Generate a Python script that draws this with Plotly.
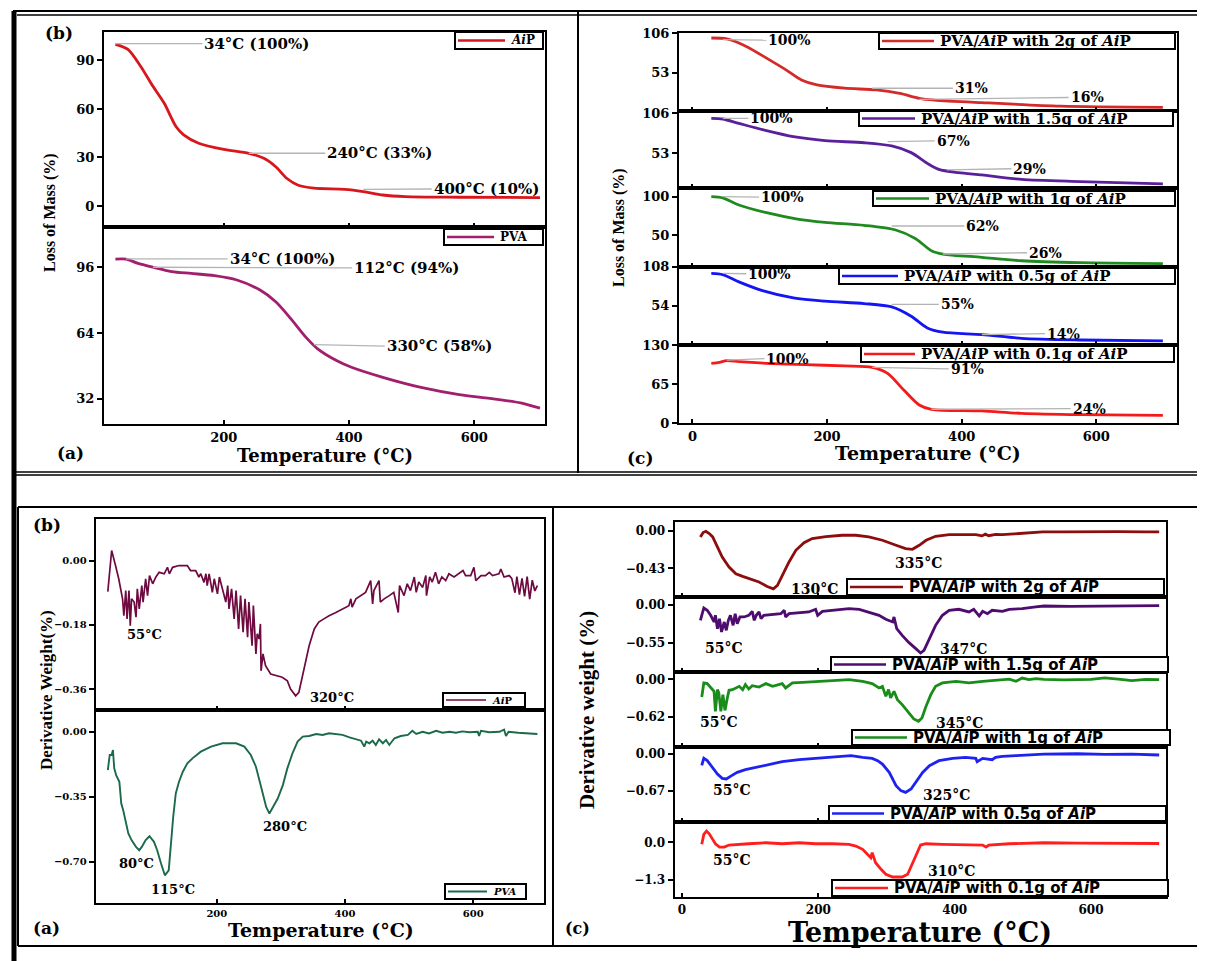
import plotly.graph_objects as go

OFF = 8                      # page body margin of the html page
FW, FH = 1205 - OFF, 961 - OFF

# ---------------- DATA ----------------
# Top-left TGA (temperature, mass %)
AIP_TGA = [(27, 100), (47, 96.9), (68, 86), (87, 74), (105, 63.5), (124, 49), (136, 44), (160, 38.8),
           (200, 35), (240, 32.6), (264, 29.5), (283, 24.3), (301, 17), (319, 12.8), (344, 11),
           (393, 10.3), (423, 8.9), (454, 6.8), (490, 5.8), (576, 5.4), (705, 5.2)]
PVA_TGA = [(27, 100), (44, 100), (62, 98), (87, 96), (117, 93.9), (148, 93), (185, 91.9), (221, 89.8),
           (258, 84.9), (283, 79.2), (307, 71), (331, 62), (350, 56.3), (380, 50.6), (404, 47.3),
           (454, 42.4), (515, 37.5), (576, 34), (637, 31.7), (674, 30), (705, 27.4)]

# Top-right TGA of blends
TGA_2G = [(28, 99.3), (51, 98), (80, 88), (110, 72.3), (139, 56.6), (162, 43), (185, 36.4), (226, 32),
          (273, 29.6), (308, 25), (337, 18.4), (360, 16), (430, 12.6), (547, 8), (699, 6.3)]
TGA_15G = [(28, 99.4), (45, 98.5), (69, 92.7), (110, 83), (150, 75), (197, 69.8), (255, 67), (296, 62.7),
           (325, 53.9), (349, 39.7), (366, 31.8), (395, 27.4), (430, 24.3), (489, 18.5), (576, 15.5), (699, 12.4)]
TGA_1G = [(28, 100), (45, 98.3), (69, 89.2), (110, 79.3), (156, 71.1), (197, 66.8), (255, 62.9), (302, 56.9),
          (331, 46), (355, 30.2), (372, 25.9), (430, 21.6), (489, 17.2), (576, 14.7), (699, 13.4)]
TGA_05G = [(28, 98.8), (45, 97), (69, 87), (104, 75), (150, 65), (197, 60.5), (255, 57.2), (296, 52.6),
           (325, 39.7), (349, 23.5), (372, 17.6), (430, 14.3), (489, 9.2), (576, 6.9), (699, 5.6)]
TGA_01G = [(28, 99.6), (40, 101.2), (51, 104), (69, 102.3), (110, 99.6), (168, 97.4), (226, 95.2), (267, 93),
           (290, 83), (314, 55.3), (337, 30.4), (355, 23.2), (430, 20.5), (489, 16.6), (576, 14.4), (699, 13.3)]

# Bottom-left DTG
AIP_DTG = [(30, -0.087), (36, 0.028), (42, -0.014), (47, -0.051), (53, -0.107), (55, -0.154), (58, -0.084),
           (60, -0.163), (63, -0.084), (65, -0.182), (67, -0.107), (71, -0.116), (74, -0.158), (76, -0.079),
           (79, -0.135), (83, -0.070), (85, -0.116), (89, -0.051), (92, -0.098), (95, -0.042), (100, -0.065),
           (105, -0.046), (110, -0.033), (118, -0.037), (123, -0.019), (126, -0.037), (131, -0.019),
           (141, -0.014), (154, -0.014), (159, -0.028), (167, -0.028), (172, -0.046), (175, -0.037),
           (180, -0.061), (183, -0.037), (185, -0.070), (188, -0.037), (193, -0.089), (196, -0.051),
           (201, -0.093), (204, -0.046), (209, -0.079), (214, -0.116), (217, -0.070), (219, -0.135),
           (223, -0.079), (227, -0.163), (230, -0.084), (234, -0.191), (237, -0.098), (241, -0.200),
           (244, -0.107), (248, -0.214), (250, -0.116), (255, -0.238), (257, -0.126), (261, -0.261),
           (263, -0.205), (266, -0.219), (268, -0.177), (269, -0.308), (272, -0.261), (276, -0.294),
           (284, -0.317), (295, -0.322), (302, -0.326), (310, -0.336), (315, -0.359), (323, -0.378),
           (328, -0.368), (336, -0.303), (344, -0.238), (352, -0.191), (359, -0.172), (367, -0.163),
           (375, -0.154), (385, -0.146), (398, -0.135), (406, -0.126), (409, -0.107), (411, -0.130),
           (417, -0.107), (424, -0.098), (432, -0.089), (440, -0.056), (443, -0.121), (445, -0.084),
           (453, -0.056), (455, -0.116), (461, -0.107), (469, -0.098), (476, -0.089), (483, -0.145),
           (485, -0.070), (492, -0.098), (497, -0.065), (502, -0.084), (508, -0.046), (511, -0.089),
           (515, -0.060), (521, -0.075), (526, -0.042), (527, -0.098), (532, -0.046), (536, -0.060),
           (541, -0.033), (546, -0.065), (551, -0.046), (557, -0.056), (562, -0.037), (570, -0.046),
           (578, -0.037), (584, -0.028), (588, -0.042), (596, -0.042), (601, -0.019), (604, -0.056),
           (612, -0.042), (619, -0.042), (625, -0.033), (630, -0.042), (640, -0.037), (643, -0.024),
           (648, -0.046), (656, -0.042), (660, -0.050), (665, -0.090), (668, -0.045), (672, -0.095),
           (676, -0.050), (680, -0.100), (684, -0.045), (688, -0.108), (692, -0.055), (696, -0.085),
           (700, -0.070)]
PVA_DTG = [(30, -0.206), (33, -0.125), (36, -0.125), (38, -0.098), (40, -0.197), (43, -0.233), (48, -0.269),
           (51, -0.386), (54, -0.422), (58, -0.494), (62, -0.547), (67, -0.583), (74, -0.619), (79, -0.637),
           (83, -0.619), (89, -0.583), (95, -0.562), (102, -0.592), (107, -0.637), (113, -0.709),
           (119, -0.772), (125, -0.745), (128, -0.601), (132, -0.457), (136, -0.332), (141, -0.269),
           (147, -0.215), (154, -0.170), (162, -0.143), (175, -0.107), (191, -0.080), (209, -0.062),
           (230, -0.062), (243, -0.080), (253, -0.125), (261, -0.188), (269, -0.296), (277, -0.404),
           (282, -0.440), (288, -0.404), (295, -0.359), (303, -0.287), (310, -0.197), (318, -0.116),
           (326, -0.053), (334, -0.026), (344, -0.023), (355, -0.012), (365, -0.017), (375, -0.008),
           (386, -0.014), (396, -0.017), (407, -0.030), (417, -0.041), (425, -0.048), (430, -0.080),
           (433, -0.053), (438, -0.062), (443, -0.048), (448, -0.071), (453, -0.041), (459, -0.062),
           (464, -0.044), (469, -0.071), (477, -0.035), (487, -0.023), (498, -0.017), (505, 0.005),
           (511, -0.012), (521, 0.0), (531, -0.009), (542, 0.005), (552, -0.005), (563, 0.0),
           (573, -0.005), (583, 0.002), (594, -0.003), (607, 0.0), (609, -0.023), (612, 0.005),
           (625, -0.003), (641, 0.0), (648, 0.012), (651, -0.023), (655, 0.0), (670, -0.005),
           (685, -0.010), (700, -0.012)]

# Bottom-right DTG of blends
DTG_2G = [(27, -0.072), (31, -0.022), (35, -0.007), (40, -0.034), (45, -0.072), (52, -0.186), (59, -0.301),
          (69, -0.415), (79, -0.492), (89, -0.522), (103, -0.557), (113, -0.587), (125, -0.637),
          (134, -0.664), (140, -0.625), (147, -0.511), (157, -0.358), (167, -0.225), (179, -0.137),
          (191, -0.091), (211, -0.068), (235, -0.053), (255, -0.053), (274, -0.072), (294, -0.110),
          (314, -0.167), (328, -0.206), (338, -0.213), (348, -0.167), (358, -0.110), (372, -0.065),
          (392, -0.046), (411, -0.042), (431, -0.046), (440, -0.060), (445, -0.040), (450, -0.058),
          (460, -0.042), (470, -0.046), (490, -0.034), (509, -0.027), (529, -0.015), (560, -0.015),
          (600, -0.012), (640, -0.012), (680, -0.015), (700, -0.015)]
DTG_15G = [(27, -0.224), (32, -0.044), (37, -0.078), (42, -0.151), (47, -0.248), (49, -0.151), (52, -0.346),
           (55, -0.200), (58, -0.394), (62, -0.248), (65, -0.370), (68, -0.224), (71, -0.151), (75, -0.297),
           (78, -0.127), (81, -0.273), (85, -0.175), (91, -0.175), (98, -0.151), (103, -0.093),
           (106, -0.224), (109, -0.151), (113, -0.102), (116, -0.200), (120, -0.151), (133, -0.141),
           (145, -0.127), (150, -0.078), (152, -0.175), (157, -0.127), (172, -0.112), (186, -0.102),
           (196, -0.063), (199, -0.151), (206, -0.093), (226, -0.078), (245, -0.054), (260, -0.063),
           (274, -0.102), (289, -0.151), (299, -0.209), (309, -0.248), (311, -0.175), (315, -0.346),
           (323, -0.443), (333, -0.550), (343, -0.637), (350, -0.701), (355, -0.662), (363, -0.492),
           (372, -0.297), (382, -0.151), (392, -0.078), (406, -0.063), (421, -0.102), (428, -0.063),
           (436, -0.161), (441, -0.093), (448, -0.127), (455, -0.078), (470, -0.093), (480, -0.063),
           (499, -0.054), (519, -0.029), (531, -0.015), (570, -0.020), (620, -0.015), (660, -0.012),
           (700, -0.010)]
DTG_1G = [(29, -0.294), (32, -0.060), (37, -0.071), (42, -0.143), (47, -0.198), (49, -0.531), (52, -0.171),
          (54, -0.226), (57, -0.531), (60, -0.254), (63, -0.515), (67, -0.282), (69, -0.182), (74, -0.171),
          (79, -0.143), (84, -0.116), (89, -0.171), (93, -0.088), (98, -0.160), (103, -0.105),
          (113, -0.127), (123, -0.071), (133, -0.116), (147, -0.071), (152, -0.143), (162, -0.060),
          (177, -0.049), (196, -0.033), (221, -0.022), (245, -0.005), (265, -0.033), (279, -0.071),
          (289, -0.143), (294, -0.116), (299, -0.282), (303, -0.171), (306, -0.309), (311, -0.198),
          (316, -0.337), (323, -0.420), (333, -0.558), (340, -0.657), (347, -0.696), (352, -0.641),
          (358, -0.448), (365, -0.254), (372, -0.116), (382, -0.060), (402, -0.033), (421, -0.060),
          (441, -0.033), (460, -0.017), (480, 0.005), (490, -0.033), (499, 0.022), (509, -0.005),
          (519, 0.011), (531, 0.0), (560, -0.010), (600, 0.0), (620, 0.025), (640, 0.005),
          (660, -0.020), (680, 0.0), (700, -0.005)]
DTG_05G = [(29, -0.207), (32, -0.076), (37, -0.119), (45, -0.240), (52, -0.365), (59, -0.444), (65, -0.456),
           (71, -0.408), (81, -0.335), (93, -0.286), (108, -0.243), (128, -0.182), (147, -0.140),
           (172, -0.103), (196, -0.079), (226, -0.061), (248, -0.030), (265, -0.061), (279, -0.079),
           (287, -0.122), (294, -0.182), (304, -0.335), (314, -0.578), (321, -0.669), (328, -0.700),
           (336, -0.639), (343, -0.517), (353, -0.335), (363, -0.213), (377, -0.122), (397, -0.079),
           (416, -0.061), (431, -0.079), (433, -0.140), (441, -0.079), (455, -0.103), (460, -0.061),
           (470, -0.043), (490, -0.030), (509, -0.012), (531, 0.0), (580, 0.005), (620, -0.005),
           (660, 0.0), (700, -0.018)]
DTG_01G = [(29, -0.069), (32, 0.276), (36, 0.390), (40, 0.297), (45, 0.103), (49, -0.048), (55, -0.162),
           (62, -0.162), (69, -0.093), (79, -0.069), (98, -0.048), (123, -0.014), (147, -0.048),
           (172, -0.014), (196, -0.048), (221, -0.048), (245, -0.069), (255, -0.128), (265, -0.241),
           (272, -0.414), (277, -0.531), (279, -0.359), (284, -0.703), (292, -0.931), (299, -1.103),
           (309, -1.197), (323, -1.197), (331, -1.103), (338, -0.759), (345, -0.359), (350, -0.093),
           (358, -0.048), (382, -0.069), (411, -0.069), (441, -0.093), (446, -0.162), (450, -0.093),
           (480, -0.048), (509, -0.014), (531, -0.014), (580, -0.030), (640, -0.030), (700, -0.040)]

# Axis tick values
TL_XTICKS = [200, 400, 600]
TR_XTICKS = [0, 200, 400, 600]

# Annotations: (curve x, curve y, text x, text y, text)
AIP_TGA_LABELS = [(27, 100.4, 166, 100.4, "34°C (100%)"), (240, 32.6, 362, 32.6, "240°C (33%)"),
                  (423, 10.3, 532, 10.5, "400°C (10%)")]
PVA_TGA_LABELS = [(44, 100.1, 206, 100.1, "34°C (100%)"), (87, 96, 405, 95.7, "112°C (94%)"),
                  (344, 58.3, 457, 57.6, "330°C (58%)")]
TGA_2G_LABELS = [(45, 97, 110, 96.5, "100%"), (267, 31.9, 387, 31.9, "31%"), (337, 17, 559, 19.5, "16%")]
TGA_15G_LABELS = [(45, 99.4, 83, 99.4, "100%"), (290, 68.5, 360, 69.5, "67%"), (378, 30.9, 474, 32.5, "29%")]
TGA_1G_LABELS = [(45, 100, 99, 99.5, "100%"), (296, 62.1, 404, 62.1, "62%"), (372, 25.9, 497, 27.5, "26%")]
TGA_05G_LABELS = [(45, 98.8, 80, 98.3, "100%"), (296, 55.9, 366, 55.9, "55%"), (430, 14.3, 524, 15.8, "14%")]
TGA_01G_LABELS = [(51, 105, 107, 107.5, "100%"), (267, 93, 381, 90.5, "91%"), (355, 23.3, 562, 24.3, "24%")]

AIP_DTG_LABELS = [(87, -0.207, "55°C"), (380, -0.383, "320°C")]
PVA_DTG_LABELS = [(74, -0.706, "80°C"), (132, -0.849, "115°C"), (307, -0.512, "280°C")]
DTG_2G_LABELS = [(195, -0.67, "130°C"), (347, -0.365, "335°C")]
DTG_15G_LABELS = [(61, -0.623, "55°C"), (413, -0.642, "347°C")]
DTG_1G_LABELS = [(55, -0.714, "55°C"), (407, -0.731, "345°C")]
DTG_05G_LABELS = [(73, -0.658, "55°C"), (388, -0.749, "325°C")]
DTG_01G_LABELS = [(73, -0.61, "55°C"), (396, -0.978, "310°C")]

BLEND = "PVA/<i>Ai</i>P with {} of <i>Ai</i>P"

SERIF = "DejaVu Serif"
TIMES = "Liberation Serif"
SANS = "DejaVu Sans"


def px(x):
    return (x - OFF) / FW


def py(y):
    return 1 - (y - OFF) / FH


# legend boxes in page pixels: left, top, right, bottom, sample end, font family, size
subplots = [
    # top-left
    dict(data=AIP_TGA, name="<i>Ai</i>P", color="#D8161C", lw=2.8, shape="spline",
         xd=(104, 545), yd=(32, 227), xr=(8.8, 713), yr=(-13, 107.6), yt=[0, 30, 60, 90], fmt="d",
         xt=TL_XTICKS, xlab=False, tf=13, lg=(455, 32, 543, 49, 505, SERIF, 12),
         tlabels=AIP_TGA_LABELS, tfs=15),
    dict(data=PVA_TGA, name="PVA", color="#A11F6D", lw=2.8, shape="spline",
         xd=(104, 545), yd=(227, 424), xr=(8.8, 713), yr=(19.7, 115.6), yt=[32, 64, 96], fmt="d",
         xt=TL_XTICKS, xlab=True, tf=13, lg=(444, 229, 543, 245, 494, SERIF, 12),
         tlabels=PVA_TGA_LABELS, tfs=15),
    # top-right
    dict(data=TGA_2G, name=BLEND.format("2g"), color="#D42A2A", lw=2.8, shape="spline",
         xd=(679, 1177), yd=(33, 110.7), xr=(-20, 720), yr=(1.8, 106), yt=[53, 106], fmt="d",
         xt=TR_XTICKS, xlab=False, tf=13, lg=(879, 33, 1175, 49, 934, SERIF, 15),
         tlabels=TGA_2G_LABELS, tfs=14),
    dict(data=TGA_15G, name=BLEND.format("1.5g"), color="#5A1F9A", lw=2.8, shape="spline",
         xd=(679, 1177), yd=(110.7, 188.3), xr=(-20, 720), yr=(6.6, 109.5), yt=[53, 106], fmt="d",
         xt=TR_XTICKS, xlab=False, tf=13, lg=(859, 111, 1173, 126, 915, SERIF, 15),
         tlabels=TGA_15G_LABELS, tfs=14),
    dict(data=TGA_1G, name=BLEND.format("1g"), color="#1F8A1F", lw=2.8, shape="spline",
         xd=(679, 1177), yd=(188.3, 266.7), xr=(-20, 720), yr=(9.5, 110.8), yt=[50, 100], fmt="d",
         xt=TR_XTICKS, xlab=False, tf=13, lg=(873, 191, 1175, 206, 929, SERIF, 15),
         tlabels=TGA_1G_LABELS, tfs=14),
    dict(data=TGA_05G, name=BLEND.format("0.5g"), color="#1414F5", lw=2.8, shape="spline",
         xd=(679, 1177), yd=(266.7, 345), xr=(-20, 720), yr=(0, 108), yt=[54, 108], fmt="d",
         xt=TR_XTICKS, xlab=False, tf=13, lg=(839, 268, 1175, 284, 898, SERIF, 15),
         tlabels=TGA_05G_LABELS, tfs=14),
    dict(data=TGA_01G, name=BLEND.format("0.1g"), color="#F51A1A", lw=2.8, shape="spline",
         xd=(679, 1177), yd=(345, 423.3), xr=(-20, 720), yr=(0, 130), yt=[0, 65, 130], fmt="d",
         xt=TR_XTICKS, xlab=True, tf=13, lg=(861, 346, 1174, 362, 915, SERIF, 15),
         tlabels=TGA_01G_LABELS, tfs=14),
    # bottom-left
    dict(data=AIP_DTG, name="<i>Ai</i>P", color="#6E0A40", lw=1.7, shape="linear",
         xd=(95.7, 544), yd=(519, 710), xr=(11.1, 710.3), yr=(-0.4175, 0.116), yt=[-0.36, -0.18, 0.0],
         fmt=".2f", xt=TL_XTICKS, xlab=False, tf=10, lg=(443, 693, 525, 707, 486, SERIF, 10),
         plabels=AIP_DTG_LABELS, pfs=13),
    dict(data=PVA_DTG, name="<i>PVA</i>", color="#1B6A4A", lw=1.9, shape="linear",
         xd=(95.7, 544), yd=(710, 903), xr=(11.1, 710.3), yr=(-0.921, 0.117), yt=[-0.70, -0.35, 0.0],
         fmt=".2f", xt=TL_XTICKS, xlab=True, tf=10, lg=(445, 884, 526, 899, 487, SERIF, 10),
         plabels=PVA_DTG_LABELS, pfs=13),
    # bottom-right
    dict(data=DTG_2G, name=BLEND.format("2g"), color="#8C0D0D", lw=2.8, shape="linear",
         xd=(674.5, 1166), yd=(522.3, 597.3), xr=(-11, 710), yr=(-0.761, 0.095), yt=[-0.43, 0.0], fmt=".2f",
         xt=TR_XTICKS, xlab=False, tf=12, lg=(847, 579, 1164, 595, 903, SANS, 15),
         plabels=DTG_2G_LABELS, pfs=14),
    dict(data=DTG_15G, name=BLEND.format("1.5g"), color="#4E0C6E", lw=2.8, shape="linear",
         xd=(674.5, 1166), yd=(597.3, 672), xr=(-11, 710), yr=(-0.978, 0.112), yt=[-0.55, 0.0], fmt=".2f",
         xt=TR_XTICKS, xlab=False, tf=12, lg=(831, 657, 1168, 672, 886, SANS, 15),
         plabels=DTG_15G_LABELS, pfs=14),
    dict(data=DTG_1G, name=BLEND.format("1g"), color="#1A8C1A", lw=2.8, shape="linear",
         xd=(674.5, 1166), yd=(672, 746.7), xr=(-11, 710), yr=(-1.118, 0.122), yt=[-0.62, 0.0], fmt=".2f",
         xt=TR_XTICKS, xlab=False, tf=12, lg=(852, 730, 1170, 745, 907, SANS, 15),
         plabels=DTG_1G_LABELS, pfs=14),
    dict(data=DTG_05G, name=BLEND.format("0.5g"), color="#1E22F0", lw=2.8, shape="linear",
         xd=(674.5, 1166), yd=(746.7, 821.7), xr=(-11, 710), yr=(-1.236, 0.134), yt=[-0.67, 0.0], fmt=".2f",
         xt=TR_XTICKS, xlab=False, tf=12, lg=(829, 806, 1166, 821, 884, SANS, 15),
         plabels=DTG_05G_LABELS, pfs=14),
    dict(data=DTG_01G, name=BLEND.format("0.1g"), color="#FF1E1E", lw=2.8, shape="linear",
         xd=(674.5, 1166), yd=(821.7, 897.3), xr=(-11, 710), yr=(-1.898, 0.713), yt=[-1.3, 0.0], fmt=".1f",
         xt=TR_XTICKS, xlab=True, tf=12, lg=(832, 880, 1168, 896, 888, SANS, 15),
         plabels=DTG_01G_LABELS, pfs=14),
]

fig = go.Figure()
layout = dict(width=FW, height=FH, margin=dict(l=0, r=0, t=0, b=0), template="none",
              paper_bgcolor="white", plot_bgcolor="white", showlegend=False)
annotations = []
shapes = []


def seg(x0, y0, x1, y1, w, color="black"):
    shapes.append(dict(type="line", xref="paper", yref="paper", x0=px(x0), y0=py(y0), x1=px(x1), y1=py(y1),
                       line=dict(color=color, width=w), layer="above"))


for i, s in enumerate(subplots, start=1):
    sfx = "" if i == 1 else str(i)
    xa, ya = "x" + sfx, "y" + sfx
    xs = [p[0] for p in s["data"]]
    ys = [p[1] for p in s["data"]]
    fig.add_trace(go.Scatter(x=xs, y=ys, mode="lines", name=s["name"],
                             line=dict(color=s["color"], width=s["lw"], shape=s["shape"], smoothing=0.8),
                             xaxis=xa, yaxis=ya, showlegend=False, hoverinfo="skip"))
    common = dict(showline=True, linecolor="black", linewidth=2, mirror=True, showgrid=False,
                  zeroline=False, tickcolor="black", tickwidth=2, automargin=False,
                  tickfont=dict(family=SERIF, size=s["tf"], color="black", weight="bold"))
    layout["xaxis" + sfx] = dict(common, domain=[px(s["xd"][0]), px(s["xd"][1])], range=list(s["xr"]),
                                 anchor=ya, tickvals=s["xt"], ticks="inside", ticklen=4,
                                 showticklabels=s["xlab"])
    layout["yaxis" + sfx] = dict(common, domain=[py(s["yd"][1]), py(s["yd"][0])], range=list(s["yr"]),
                                 anchor=xa, tickvals=s["yt"], ticks="outside", ticklen=5,
                                 tickformat=s["fmt"])
    # legend box drawn by hand
    l, t, r, b, se, fam, fs = s["lg"]
    shapes.append(dict(type="rect", xref="paper", yref="paper", x0=px(l), y0=py(b), x1=px(r), y1=py(t),
                       fillcolor="white", line=dict(color="black", width=2), layer="above"))
    seg(l + 3, (t + b) / 2, se, (t + b) / 2, min(s["lw"], 2.6), s["color"])
    annotations.append(dict(xref="paper", yref="paper", x=px(se + 4), y=py((t + b) / 2),
                            text="<b>" + s["name"] + "</b>", showarrow=False, xanchor="left",
                            yanchor="middle", font=dict(family=fam, size=fs, color="black")))
    for (cx, cy, tx, ty, txt) in s.get("tlabels", []):
        shapes.append(dict(type="line", xref=xa, yref=ya, x0=cx, y0=cy, x1=tx, y1=ty,
                           line=dict(color="#B4B4B4", width=1.3)))
        annotations.append(dict(xref=xa, yref=ya, x=tx, y=ty, text="<b>" + txt + "</b>", showarrow=False,
                                xanchor="left", yanchor="middle",
                                font=dict(family=SERIF, size=s["tfs"], color="black")))
    for (tx, ty, txt) in s.get("plabels", []):
        annotations.append(dict(xref=xa, yref=ya, x=tx, y=ty, text="<b>" + txt + "</b>", showarrow=False,
                                xanchor="center", yanchor="middle",
                                font=dict(family=SERIF, size=s["pfs"], color="black")))

# panel letters and axis titles (page pixels)
texts = [("(b)", 59, 33, 17, SERIF, 0), ("(a)", 70, 453, 17, SERIF, 0), ("(c)", 640, 458, 17, SERIF, 0),
         ("(b)", 47, 525, 17, SERIF, 0), ("(a)", 46, 928, 17, SERIF, 0), ("(c)", 577, 928, 16, SERIF, 0),
         ("Temperature (°C)", 325, 455, 18, SERIF, 0), ("Temperature (°C)", 928, 453, 19, SERIF, 0),
         ("Temperature (°C)", 321, 930, 19, SERIF, 0), ("Temperature (°C)", 920, 932, 27, SERIF, 0),
         ("Loss of Mass (%)", 50, 213, 16, TIMES, -90), ("Loss of Mass (%)", 619, 228, 16, TIMES, -90),
         ("Derivative Weight(%)", 46, 690, 17, TIMES, -90), ("Derivative weight (%)", 587, 710, 21, TIMES, -90)]
for (txt, x, y, size, fam, ang) in texts:
    annotations.append(dict(xref="paper", yref="paper", x=px(x), y=py(y), text="<b>" + txt + "</b>",
                            showarrow=False, xanchor="center", yanchor="middle", textangle=ang,
                            font=dict(family=fam, size=size, color="black")))

# frames
seg(13, 11, 1203, 11, 2)
seg(17, 15, 1203, 15, 1.5)
seg(1202, 11, 1202, 475, 2.5)
seg(14, 11, 14, 961, 5)
seg(578, 11, 578, 473, 2)
seg(13, 472, 1203, 472, 1.5)
seg(13, 475, 1203, 475, 1.5)
seg(18, 507, 1203, 507, 2)
seg(18, 946, 1203, 946, 2)
seg(18, 507, 18, 946, 2)
seg(553, 507, 553, 946, 2)
seg(1202, 507, 1202, 946, 2)

layout["annotations"] = annotations
layout["shapes"] = shapes
fig.update_layout(**layout)
fig.write_html("out.html")
